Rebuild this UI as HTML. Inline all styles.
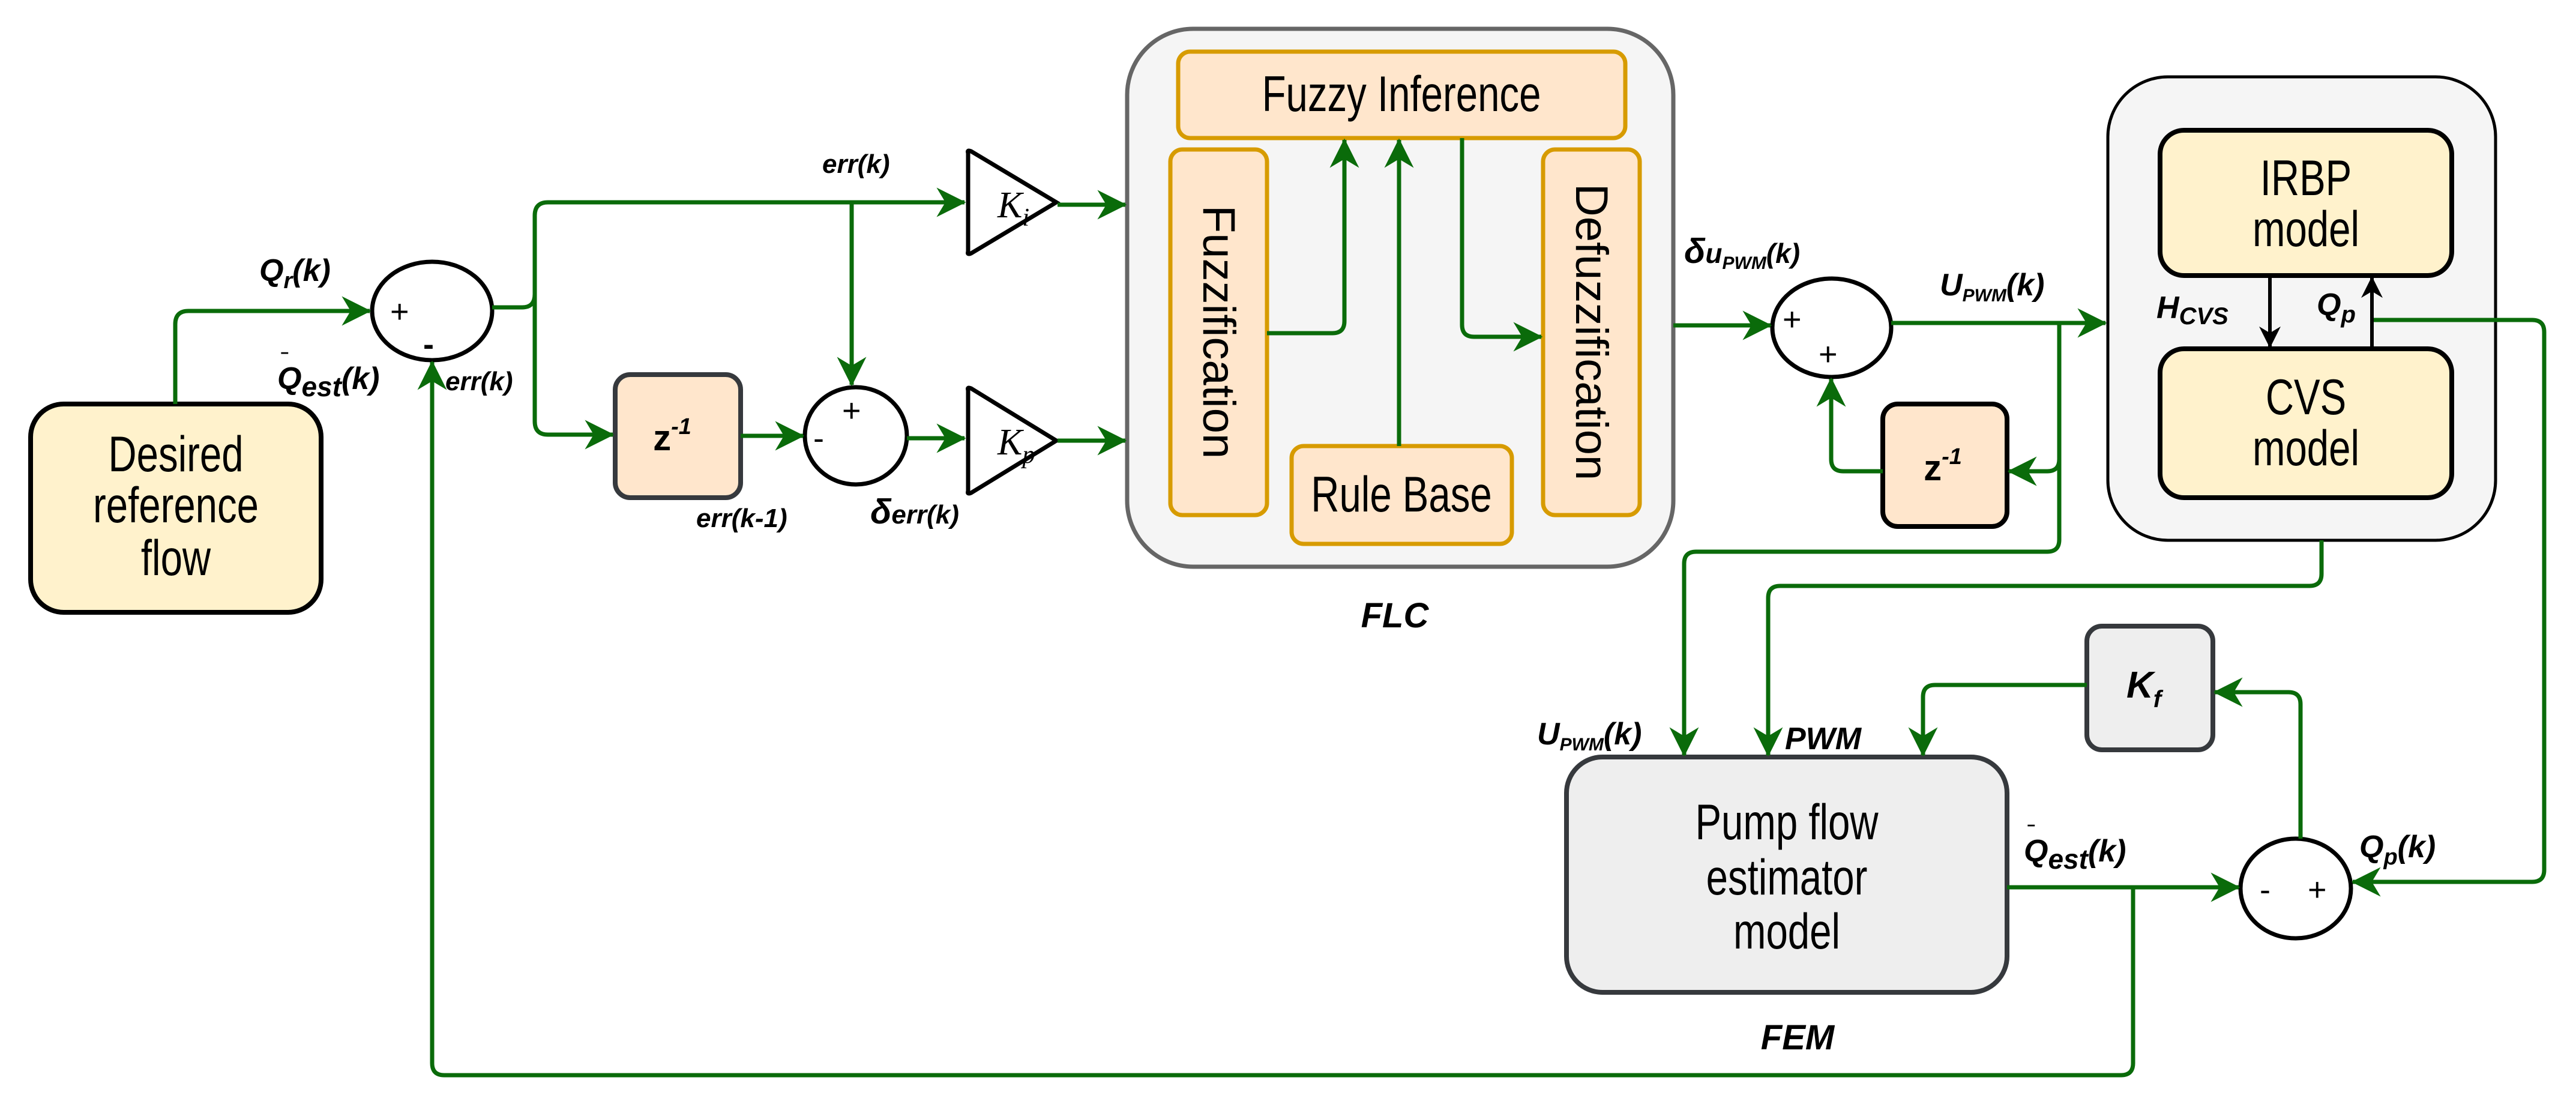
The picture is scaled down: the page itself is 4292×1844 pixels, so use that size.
<!DOCTYPE html>
<html><head><meta charset="utf-8"><style>
html,body{margin:0;padding:0;background:#fff}
svg{display:block}
text{font-family:"Liberation Sans",sans-serif}
.lb{font-weight:bold;font-style:italic;font-size:52px;fill:#000}
.bx{font-size:76px;fill:#000}
</style></head><body>
<svg width="4292" height="1844" viewBox="0 0 4292 1844" xmlns="http://www.w3.org/2000/svg">
<defs>
<marker id="a" viewBox="0 0 20 20" refX="19" refY="10" markerWidth="7" markerHeight="7" orient="auto" markerUnits="strokeWidth">
<path d="M0,0 L20,10 L0,20 L6,10 Z" fill="#0a6b0a"/></marker>
<marker id="k" viewBox="0 0 20 20" refX="19" refY="10" markerWidth="6" markerHeight="6" orient="auto" markerUnits="strokeWidth">
<path d="M0,0 L20,10 L0,20 L6,10 Z" fill="#000"/></marker>
</defs>

<rect x="1878" y="48" width="910" height="896" rx="110" fill="#f5f5f5" stroke="#666" stroke-width="7"/>
<rect x="3512" y="128" width="646" height="772" rx="100" fill="#f5f5f5" stroke="#000" stroke-width="5"/>

<rect x="51" y="673" width="484" height="347" rx="55" fill="#fff2cc" stroke="#000" stroke-width="8"/>
<g text-anchor="middle" class="bx">
<text transform="translate(293,785) scale(0.86,1.1)">Desired</text>
<text transform="translate(293,870) scale(0.86,1.1)">reference</text>
<text transform="translate(293,958) scale(0.86,1.1)">flow</text>
</g>

<rect x="1025" y="624" width="209" height="205" rx="25" fill="#ffe6cc" stroke="#36393d" stroke-width="8"/>
<text x="1120" y="750" text-anchor="middle" style="font-weight:bold;font-size:60px">z<tspan dy="-27" font-size="38" font-style="italic">-1</tspan></text>

<rect x="1963" y="86" width="745" height="144" rx="20" fill="#ffe6cc" stroke="#d79b00" stroke-width="7"/>
<text class="bx" text-anchor="middle" transform="translate(2335,185) scale(0.86,1.1)">Fuzzy Inference</text>
<rect x="1950" y="249" width="161" height="609" rx="20" fill="#ffe6cc" stroke="#d79b00" stroke-width="7"/>
<text class="bx" transform="translate(2005,553) rotate(90)" text-anchor="middle">Fuzzification</text>
<rect x="2152" y="743" width="367" height="163" rx="20" fill="#ffe6cc" stroke="#d79b00" stroke-width="7"/>
<text class="bx" text-anchor="middle" transform="translate(2335,852) scale(0.86,1.1)">Rule Base</text>
<rect x="2571" y="249" width="161" height="609" rx="20" fill="#ffe6cc" stroke="#d79b00" stroke-width="7"/>
<text class="bx" transform="translate(2626,553) rotate(90)" text-anchor="middle">Defuzzification</text>
<text class="lb" x="2324" y="1045" text-anchor="middle" style="font-size:58px">FLC</text>

<rect x="3137" y="673" width="207" height="204" rx="25" fill="#ffe6cc" stroke="#000" stroke-width="8"/>
<text x="3237" y="800" text-anchor="middle" style="font-weight:bold;font-size:60px">z<tspan dy="-27" font-size="38" font-style="italic">-1</tspan></text>

<rect x="3599" y="217" width="486" height="242" rx="40" fill="#fff2cc" stroke="#000" stroke-width="8"/>
<text class="bx" text-anchor="middle" transform="translate(3842,325) scale(0.86,1.1)">IRBP</text>
<text class="bx" text-anchor="middle" transform="translate(3842,410) scale(0.86,1.1)">model</text>
<rect x="3599" y="581" width="486" height="248" rx="40" fill="#fff2cc" stroke="#000" stroke-width="8"/>
<text class="bx" text-anchor="middle" transform="translate(3842,690) scale(0.86,1.1)">CVS</text>
<text class="bx" text-anchor="middle" transform="translate(3842,775) scale(0.86,1.1)">model</text>

<rect x="2610" y="1261" width="734" height="392" rx="60" fill="#eeeeee" stroke="#36393d" stroke-width="8"/>
<text class="bx" text-anchor="middle" transform="translate(2977,1398) scale(0.86,1.1)">Pump flow</text>
<text class="bx" text-anchor="middle" transform="translate(2977,1490) scale(0.86,1.1)">estimator</text>
<text class="bx" text-anchor="middle" transform="translate(2977,1580) scale(0.86,1.1)">model</text>
<text class="lb" x="2995" y="1748" text-anchor="middle" style="font-size:58px">FEM</text>

<rect x="3477" y="1043" width="210" height="206" rx="25" fill="#eeeeee" stroke="#36393d" stroke-width="8"/>
<text x="3572" y="1162" text-anchor="middle" style="font-style:italic;font-weight:bold;font-size:62px">K<tspan dy="16" font-size="40">f</tspan></text>

<path d="M1613,255 Q1611,249 1618,252 L1760,337 L1618,422 Q1611,425 1613,419 Z" fill="#fff" stroke="#000" stroke-width="7"/>
<text x="1662" y="362" style="font-family:'Liberation Serif',serif;font-style:italic;font-size:62px">K<tspan dy="14" font-size="42">i</tspan></text>
<path d="M1613,650 Q1611,644 1618,647 L1760,734 L1618,821 Q1611,824 1613,818 Z" fill="#fff" stroke="#000" stroke-width="7"/>
<text x="1662" y="757" style="font-family:'Liberation Serif',serif;font-style:italic;font-size:62px">K<tspan dy="14" font-size="42">p</tspan></text>

<ellipse cx="720" cy="518" rx="100" ry="82" fill="#fff" stroke="#000" stroke-width="7"/>
<text x="650" y="537" style="font-size:54px">+</text><text x="705" y="592" style="font-size:54px;font-weight:bold">-</text>
<ellipse cx="1426" cy="726" rx="85" ry="81" fill="#fff" stroke="#000" stroke-width="7"/>
<text x="1403" y="702" style="font-size:54px">+</text><text x="1355" y="748" style="font-size:54px">-</text>
<ellipse cx="3052" cy="546" rx="99" ry="82" fill="#fff" stroke="#000" stroke-width="7"/>
<text x="2970" y="550" style="font-size:54px">+</text><text x="3030" y="608" style="font-size:54px">+</text>
<ellipse cx="3825" cy="1480" rx="92" ry="83" fill="#fff" stroke="#000" stroke-width="7"/>
<text x="3765" y="1500" style="font-size:54px">-</text><text x="3845" y="1500" style="font-size:54px">+</text>

<g fill="none" stroke="#0a6b0a" stroke-width="7" stroke-linejoin="round">
<path d="M292,673 V540 Q292,518 314,518 H616" marker-end="url(#a)"/>
<path d="M820,512 H870 Q891,512 891,490 V359 Q891,337 913,337 H1607" marker-end="url(#a)"/>
<path d="M891,490 V702 Q891,724 913,724 H1021" marker-end="url(#a)"/>
<path d="M1419,337 V641" marker-end="url(#a)"/>
<path d="M1234,726 H1338" marker-end="url(#a)"/>
<path d="M1511,730 H1607" marker-end="url(#a)"/>
<path d="M1762,341 H1875" marker-end="url(#a)"/>
<path d="M1762,734 H1875" marker-end="url(#a)"/>
<path d="M2111,555 H2220 Q2240,555 2240,535 V233" marker-end="url(#a)"/>
<path d="M2331,743 V233" marker-end="url(#a)"/>
<path d="M2436,230 V541 Q2436,561 2456,561 H2568" marker-end="url(#a)"/>
<path d="M2788,542 H2950" marker-end="url(#a)"/>
<path d="M3151,538 H3508" marker-end="url(#a)"/>
<path d="M3431,538 V899 Q3431,919 3411,919 H2826 Q2806,919 2806,939 V1258" marker-end="url(#a)"/>
<path d="M3431,765 Q3431,785 3411,785 H3347" marker-end="url(#a)"/>
<path d="M3137,785 H3071 Q3051,785 3051,765 V631" marker-end="url(#a)"/>
<path d="M3868,900 V956 Q3868,976 3848,976 H2966 Q2946,976 2946,996 V1258" marker-end="url(#a)"/>
<path d="M3952,533 H4219 Q4239,533 4239,553 V1449 Q4239,1469 4219,1469 H3920" marker-end="url(#a)"/>
<path d="M3833,1397 V1173 Q3833,1153 3813,1153 H3690" marker-end="url(#a)"/>
<path d="M3477,1141 H3224 Q3204,1141 3204,1161 V1258" marker-end="url(#a)"/>
<path d="M3344,1478 H3730" marker-end="url(#a)"/>
<path d="M3554,1478 V1771 Q3554,1791 3534,1791 H740 Q720,1791 720,1771 V603" marker-end="url(#a)"/>
</g>
<path d="M3782,459 V578" stroke="#000" stroke-width="6" marker-end="url(#k)"/>
<path d="M3952,581 V462" stroke="#000" stroke-width="6" marker-end="url(#k)"/>

<text class="lb" x="432" y="468">Q<tspan dy="12" font-size="38">r</tspan><tspan dy="-12">(k)</tspan></text>
<text class="lb" x="462" y="648"><tspan font-size="34" dy="-34">‾</tspan><tspan dx="-18" dy="34">Q</tspan><tspan dy="12" font-size="46">est</tspan><tspan dy="-12">(k)</tspan></text>
<text class="lb" x="742" y="650" style="font-size:44px">err(k)</text>
<text class="lb" x="1370" y="288" style="font-size:44px">err(k)</text>
<text class="lb" x="1160" y="878" style="font-size:44px">err(k-1)</text>
<text class="lb" x="1450" y="872" style="font-size:58px">δ<tspan font-size="44">err(k)</tspan></text>
<text class="lb" x="2806" y="438" style="font-size:58px">δ<tspan font-size="46">u</tspan><tspan font-size="30" dy="10">PWM</tspan><tspan font-size="46" dy="-10">(k)</tspan></text>
<text class="lb" x="3232" y="492">U<tspan font-size="30" dy="10">PWM</tspan><tspan dy="-10">(k)</tspan></text>
<text class="lb" x="3593" y="530">H<tspan font-size="40" dy="10">CVS</tspan></text>
<text class="lb" x="3860" y="525">Q<tspan font-size="40" dy="12">p</tspan></text>
<text class="lb" x="2561" y="1240">U<tspan font-size="30" dy="10">PWM</tspan><tspan dy="-10">(k)</tspan></text>
<text class="lb" x="2974" y="1248">PWM</text>
<text class="lb" x="3372" y="1435"><tspan font-size="34" dy="-34">‾</tspan><tspan dx="-18" dy="34">Q</tspan><tspan dy="12" font-size="46">est</tspan><tspan dy="-12">(k)</tspan></text>
<text class="lb" x="3931" y="1428">Q<tspan dy="12" font-size="38">p</tspan><tspan dy="-12">(k)</tspan></text>
</svg>
</body></html>
